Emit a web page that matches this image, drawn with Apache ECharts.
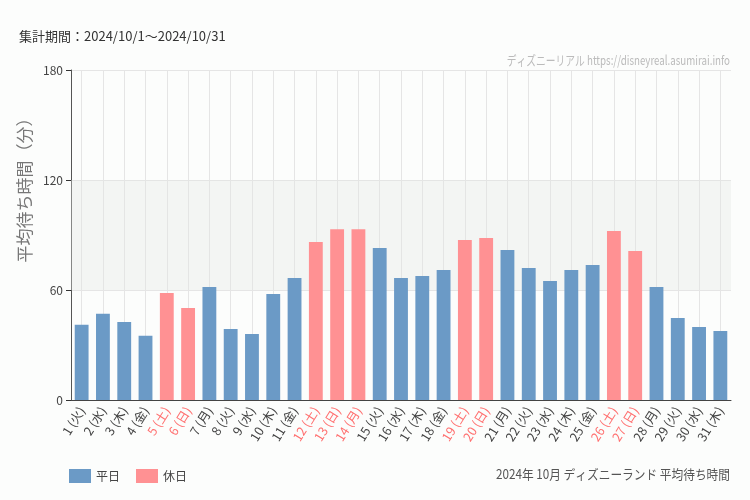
<!DOCTYPE html>
<html><head><meta charset="utf-8">
<script src="https://cdn.jsdelivr.net/npm/echarts@6/dist/echarts.min.js"></script>
<style>html,body{margin:0;padding:0;background:#fcfdfc;}#c{width:750px;height:500px;}</style>
</head><body><div id="c"></div>
<script>
const days = ['1','2','3','4','5','6','7','8','9','10','11','12','13','14','15','16','17','18','19','20','21','22','23','24','25','26','27','28','29','30','31'];
const weekdays = ['火','水','木','金','土','日','月','火','水','木','金','土','日','月','火','水','木','金','土','日','月','火','水','木','金','土','日','月','火','水','木'];
const holidayFlags = [0,0,0,0,1,1,0,0,0,0,0,1,1,1,0,0,0,0,1,1,0,0,0,0,0,1,1,0,0,0,0];
const waitTimes = [41,47,42.5,35,58.4,50.2,61.6,38.7,36,57.8,66.5,86.2,93.1,93.1,82.9,66.5,67.6,70.9,87.3,88.4,81.8,72,64.9,70.9,73.6,92.2,81.3,61.6,44.7,39.8,37.6];
const yTicks = [0,60,120,180];

const categories = days.map((d,i)=> d + ' (' + weekdays[i] + ')');
const weekdayData = waitTimes.map((v,i)=> holidayFlags[i] ? '-' : v);
const holidayData = waitTimes.map((v,i)=> holidayFlags[i] ? v : '-');

const FF = '"Noto Sans CJK JP", "Noto Sans", sans-serif';
const chart = echarts.init(document.getElementById('c'));
chart.setOption({
  backgroundColor: '#fcfdfc',
  animation: false,
  textStyle: {fontFamily: FF},
  grid: {left: 71, right: 19, top: 70, bottom: 100},
  title: [
    {text: '集計期間：2024/10/1～2024/10/31', left: 14, top: 25, textStyle: {fontSize: 13, fontWeight: 'normal', color: '#333'}}
  ],
  legend: {
    left: 64, top: 464, itemWidth: 22, itemHeight: 14, itemGap: 16,
    icon: 'rect',
    textStyle: {fontSize: 12, color: '#444'},
    data: ['平日','休日']
  },
  graphic: [
    {
      type: 'text', x: 25, y: 186, rotation: Math.PI/2,
      style: {text: '平均待ち時間（分）', fill: '#777', fontSize: 17, textAlign: 'center', textVerticalAlign: 'middle', fontFamily: FF}
    },
    {
      type: 'text', x: 730, y: 60, scaleX: 0.75,
      style: {text: 'ディズニーリアル https://disneyreal.asumirai.info', fill: '#bbb', fontSize: 13, textAlign: 'right', textVerticalAlign: 'middle', fontFamily: FF}
    },
    {
      type: 'text', x: 730, y: 474, scaleX: 0.9,
      style: {text: '2024年 10月 ディズニーランド 平均待ち時間', fill: '#555', fontSize: 13, textAlign: 'right', textVerticalAlign: 'middle', fontFamily: FF}
    }
  ],
  xAxis: {
    type: 'category', data: categories,
    axisLine: {lineStyle: {color: '#444'}},
    axisTick: {alignWithLabel: true, lineStyle: {color: '#333'}},
    splitLine: {show: true, alignWithLabel: true, lineStyle: {color: '#e5e5e5'}},
    axisLabel: {
      interval: 0, rotate: 58, fontSize: 12.5, margin: 8,
      color: function(v, i){ return holidayFlags[i] ? '#ff7070' : '#444'; }
    }
  },
  yAxis: {
    type: 'value', min: 0, max: 180, interval: 60,
    axisLine: {show: true, lineStyle: {color: '#555'}},
    axisTick: {show: true, length: 5, lineStyle: {color: '#333'}},
    splitLine: {lineStyle: {color: '#e5e5e5'}},
    axisLabel: {fontSize: 12, color: '#444', margin: 8, formatter: function(v){ return yTicks.indexOf(v) >= 0 ? String(v) : ''; }}
  },
  series: [
    {
      name: '平日', type: 'bar', stack: 'a', data: weekdayData, barWidth: '65%',
      itemStyle: {color: '#6b9ac6'},
      markArea: {silent: true, itemStyle: {color: 'rgba(225,228,225,0.35)'}, data: [[{yAxis: 60}, {yAxis: 120}]]}
    },
    {
      name: '休日', type: 'bar', stack: 'a', data: holidayData, barWidth: '65%',
      itemStyle: {color: '#ff9193'}
    }
  ]
});
</script></body></html>
